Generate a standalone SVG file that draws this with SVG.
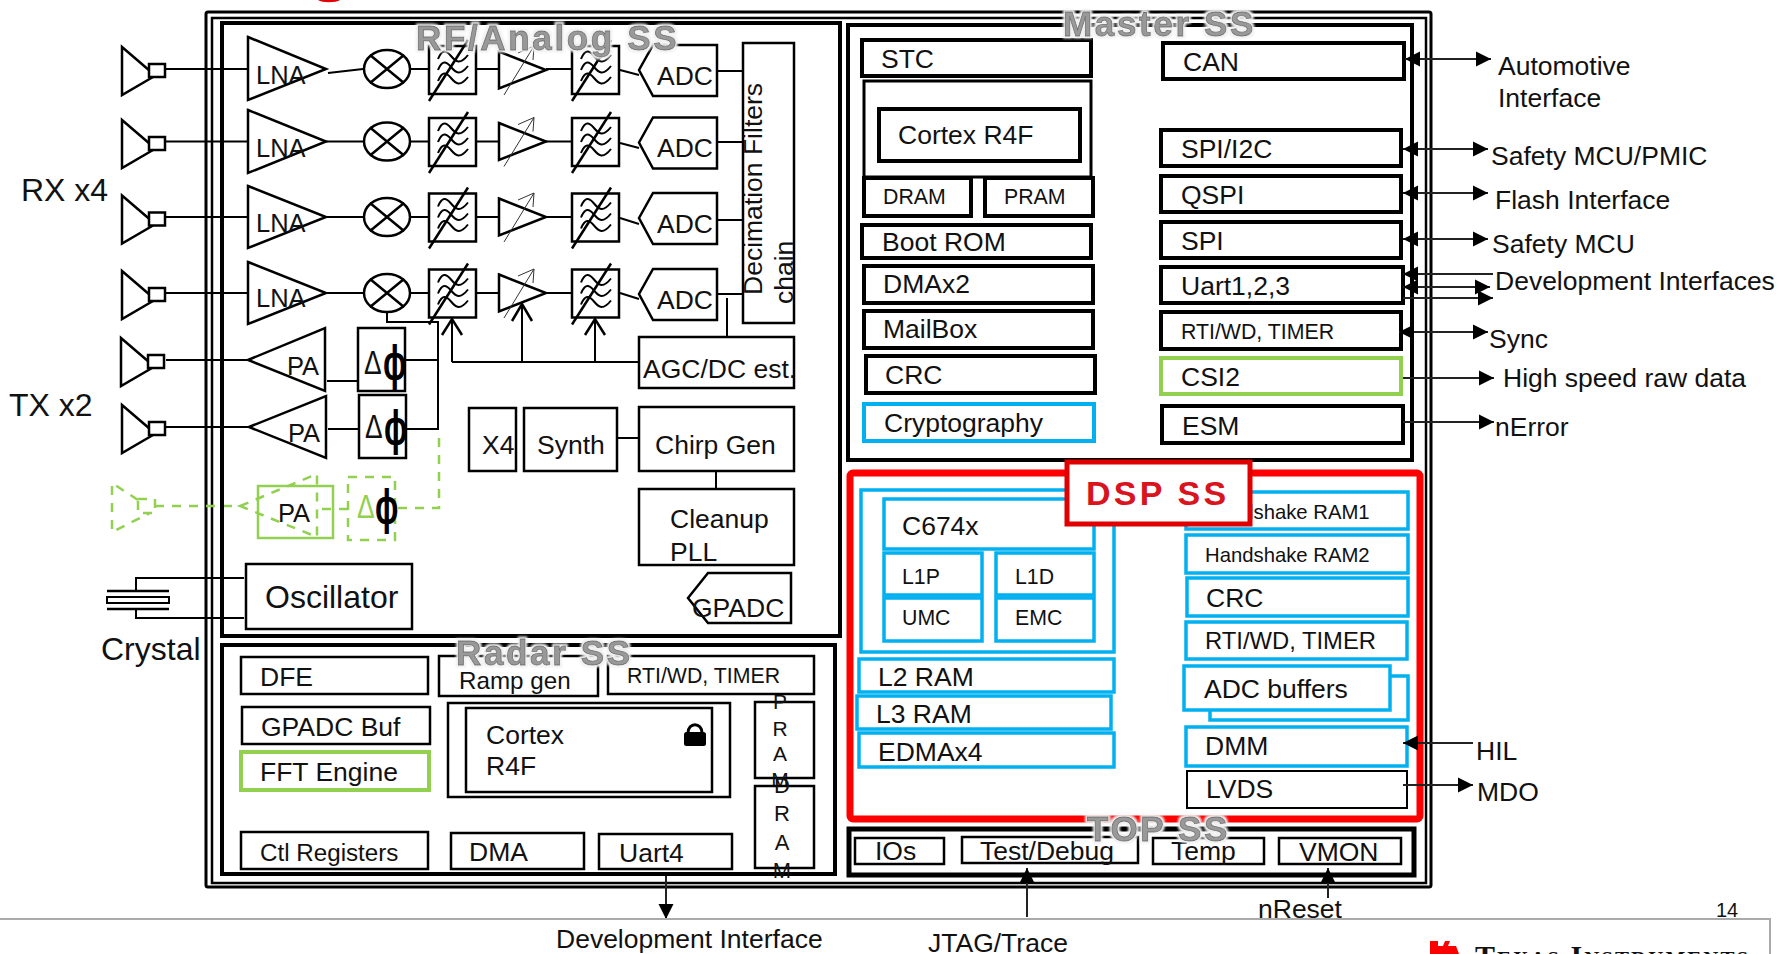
<svg xmlns="http://www.w3.org/2000/svg" width="1779" height="954" viewBox="0 0 1779 954">
<style>
text{font-family:"Liberation Sans",Arial,sans-serif;font-size:26.500px;fill:#111;transform:translate(-1px,0)}
.s21{font-size:21.300px}.s24{font-size:24.200px}.s20{font-size:20.300px}.s23{font-size:23.800px}.s32{font-size:32px}.s25{font-size:25.500px}
.fr{fill:none;stroke:#000}
.b{fill:#fff;stroke:#000;stroke-width:2.500}
.k{fill:#fff;stroke:#000;stroke-width:4}
.bl{fill:#fff;stroke:#00b0f0;stroke-width:3.500}
.gr{fill:#fff;stroke:#92d050;stroke-width:4}
.w{fill:none;stroke:#000;stroke-width:2}
.t{fill:none;stroke:#000;stroke-width:2.500}
.thin{fill:none;stroke:#333;stroke-width:1}
.gd{fill:none;stroke:#92d050;stroke-width:2.500;stroke-dasharray:9 8}
.ln{fill:none;stroke:#222;stroke-width:2}
.ss{font-size:35px;font-weight:bold;fill:#999;stroke:#6e6e6e;stroke-width:.8px;letter-spacing:2.650px;filter:url(#halo)}
.dl{font-size:33px}
.ph{font-size:46px;font-weight:bold;fill:#000}
</style>
<defs>
<filter id="halo" x="-10%" y="-30%" width="120%" height="160%">
<feMorphology in="SourceAlpha" operator="dilate" radius="2" result="d"/>
<feGaussianBlur in="d" stdDeviation="1" result="db"/>
<feFlood flood-color="#f0f0f0"/><feComposite in2="db" operator="in" result="h"/>
<feMerge><feMergeNode in="h"/><feMergeNode in="SourceGraphic"/></feMerge>
</filter>
<marker id="ah" markerUnits="userSpaceOnUse" markerWidth="16" markerHeight="16" refX="15" refY="8" orient="auto-start-reverse"><path d="M0 .5L15 8L0 15.500z" fill="#000"/></marker>
<g id="ant"><path class="t" d="M150 0L122-24V24L153 6"/><rect x="149" y="-7" width="16" height="13" class="b"/></g>
<g id="flt"><rect x="0" y="-24" width="47" height="48" fill="#fff" stroke="#000" stroke-width="2.500"/>
<path class="w" d="M9-11C13-21 17-20 22-14S31-5 39-15M9 0C13-10 17-9 22-3S31 6 39-4M9 11C13 1 17 2 22 8S31 17 39 7"/>
<path class="t" d="M0 31L39-30"/></g>
<g id="amp"><path fill="#fff" stroke="#000" stroke-width="2.500" d="M499-18.500L546 0L499 18.500z"/><path class="thin" d="M504 25L534-24L518-17M534-24L533-10"/></g>
<g id="mix"><ellipse cx="387" cy="0" rx="23" ry="19" class="t" fill="#fff"/><path class="t" d="M370-14L404 14M370 14L404-14"/></g>
<path id="adc" d="M0 0L14-25H78V26H14z" fill="#fff" stroke="#000" stroke-width="2.500"/>
</defs>
<rect width="1779" height="954" fill="#fff"/>
<path fill="#e00000" d="M318 0C322 3 336 3 340 0z"/>

<g id="frames">
<rect class="fr" x="206" y="12" width="1225" height="875" rx="2" stroke-width="3"/>
<rect class="fr" x="212" y="18" width="1214" height="865" stroke-width="2.500"/>
</g>

<g id="connectors">
<use href="#ant" y="71"/>
<use href="#ant" y="144"/><use href="#ant" y="219.500"/><use href="#ant" y="295"/>
<use href="#ant" x="-1" y="362"/><use href="#ant" y="429"/>
<path class="w" d="M166 69H248M166 141.500H248M166 217H248M166 293H248M166 360H248M166 427H249"/>
<path class="w" d="M136 591V578H244M136 609V618H244"/>
<path class="gd" d="M155 506H240"/>
<path class="t" d="M107 591H169M107 609H169"/>
<rect x="107" y="597" width="62" height="6" class="w" fill="#fff"/>
</g>

<rect id="rfss" class="fr" x="222" y="23" width="618" height="613" stroke-width="4"/>
<rect id="masterss" class="fr" x="848" y="25" width="564" height="435" stroke-width="4"/>
<rect id="radarss" class="fr" x="222" y="645" width="613" height="229" stroke-width="4"/>

<g id="rf-wires">
<path class="w" d="M328 73L363 69M326 141.500H363M326 217H363M326 293H363M410 69H429M410 141.500H429M410 217H429M410 293H429M476 69H499M476 141.500H499M476 217H499M476 293H499M546 69H572M546 141.500H572M546 217H572M546 293H572M620 70L639 75M620 143L639 148M620 218L639 224M620 293L639 299M717 71H743M717 142H743M717 220H743M717 294H743M727 298V337"/>
<path class="w" d="M387 312V322H438V430M405 360H438M406 429H438"/>
<path class="w" d="M452 362V320M522 362V304M595 362V320M452 362H639"/>
<path class="w" d="M327 381H358M328 429H359M617 438H639M716 471V489"/>
<path class="gd" d="M439 438V508H395M348 509H318"/>
</g>

<g id="lna1"><path class="b" d="M248 37L326 69L248 100z"/><text class="s25" x="257" y="84">LNA</text></g>
<g id="lna2"><path class="b" d="M248 110L326 141.500L248 173z"/><text class="s25" x="257" y="157">LNA</text></g>
<g id="lna3"><path class="b" d="M248 186L326 217L248 248z"/><text class="s25" x="257" y="232">LNA</text></g>
<g id="lna4"><path class="b" d="M248 262L326 293L248 324z"/><text class="s25" x="257" y="307">LNA</text></g>

<g id="mixers"><use href="#mix" y="69"/><use href="#mix" y="141.500"/><use href="#mix" y="217"/><use href="#mix" y="293"/></g>
<g id="filters1"><use href="#flt" x="429" y="70"/><use href="#flt" x="429" y="142"/><use href="#flt" x="429" y="217.500"/><use href="#flt" x="429" y="293.500"/></g>
<g id="amps"><use href="#amp" y="70"/><use href="#amp" y="141.500"/><use href="#amp" y="217"/><use href="#amp" y="293"/></g>
<g id="filters2"><use href="#flt" x="572" y="70"/><use href="#flt" x="572" y="142"/><use href="#flt" x="572" y="217.500"/><use href="#flt" x="572" y="293.500"/></g>
<path class="t" d="M442 335L452 319L462 335M512 321L522 304L532 321M585 335L595 319L605 335"/>

<g id="adc1"><use href="#adc" x="639" y="70"/><text x="658" y="85">ADC</text></g>
<g id="adc2"><use href="#adc" x="639" y="142.500"/><text x="658" y="157">ADC</text></g>
<g id="adc3"><use href="#adc" x="639" y="218"/><text x="658" y="233">ADC</text></g>
<g id="adc4"><use href="#adc" x="639" y="294"/><text x="658" y="309">ADC</text></g>

<g id="decimation"><rect class="b" x="743" y="43" width="51" height="280"/>
<text style="transform:translate(762px,295px) rotate(-90deg)">Decimation Filters</text>
<text style="transform:translate(793px,304px) rotate(-90deg)">chain</text></g>
<g id="agc"><rect class="b" x="639" y="337" width="155" height="51"/><text x="644" y="378">AGC/DC est.</text></g>
<g id="x4"><rect class="b" x="469" y="408" width="47" height="63"/><text x="483" y="454">X4</text></g>
<g id="synth"><rect class="b" x="524" y="408" width="93" height="63"/><text x="538" y="454">Synth</text></g>
<g id="chirp"><rect class="b" x="639" y="407" width="155" height="64"/><text x="656" y="454">Chirp Gen</text></g>
<g id="cleanup"><rect class="b" x="639" y="489" width="155" height="76"/><text x="671" y="528">Cleanup</text><text x="671" y="561">PLL</text></g>
<g id="gpadc"><path class="b" d="M688 598L708 573H791V623H708z"/><text x="693" y="617">GPADC</text></g>

<g id="pa1"><path class="b" d="M248 360L325 328V391z"/><text class="s25" x="288" y="375">PA</text></g>
<g id="pa2"><path class="b" d="M249 427L326 396V458z"/><text class="s25" x="289" y="442">PA</text></g>
<g id="ph1"><rect class="b" x="358" y="328" width="47" height="63"/><text class="dl" style="transform:translate(364px,374px) scale(.8,1)">Δ</text><text class="ph" style="transform:translate(383px,380px) scale(.68,1.1)">ϕ</text></g>
<g id="ph2"><rect class="b" x="359" y="395" width="47" height="63"/><text class="dl" style="transform:translate(365px,438px) scale(.8,1)">Δ</text><text class="ph" style="transform:translate(384px,445px) scale(.68,1.1)">ϕ</text></g>

<g id="antenna-green"><path class="gd" d="M138 500L112 483V532L150 513"/><rect class="gd" x="138" y="499" width="17" height="14"/></g>
<g id="pa3"><rect x="258" y="486" width="75" height="52" fill="none" stroke="#92d050" stroke-width="2.500"/><path class="gd" d="M240 506L317 474V537z"/><text class="s25" x="279" y="522">PA</text></g>
<g id="ph3"><rect class="gd" x="348" y="477" width="47" height="63"/><text class="dl" style="fill:#92d050;transform:translate(357px,518px) scale(.8,1)">Δ</text><text class="ph" style="transform:translate(375px,524px) scale(.68,1.1)">ϕ</text></g>

<g id="oscillator"><rect class="b" x="246" y="564" width="166" height="65"/><text class="s32" x="266" y="608">Oscillator</text></g>
<text id="rx" class="s32" x="22" y="201">RX x4</text>
<text id="tx" class="s32" x="10" y="416">TX x2</text>
<text id="crystal" class="s32" x="102" y="660">Crystal</text>

<g id="radar">
<g id="dfe"><rect class="b" x="241" y="657" width="187" height="37"/><text x="261" y="686">DFE</text></g>
<g id="ramp"><rect class="b" x="439" y="656" width="159" height="40"/><text class="s24" x="460" y="689">Ramp gen</text></g>
<g id="rti-r"><rect class="b" x="608" y="656" width="206" height="38"/><text class="s21" x="628" y="683">RTI/WD, TIMER</text></g>
<g id="gpadcbuf"><rect class="b" x="242" y="707" width="188" height="37"/><text x="262" y="736">GPADC Buf</text></g>
<g id="fft"><rect class="gr" x="241" y="752" width="188" height="38"/><text x="261" y="781">FFT Engine</text></g>
<g id="cortex-r"><rect class="b" x="448" y="703" width="282" height="94"/><rect class="b" x="466" y="708" width="246" height="84"/><text x="487" y="744">Cortex</text><text x="487" y="775">R4F</text>
<path d="M688 733C688 722 702 722 702 733" fill="none" stroke="#000" stroke-width="3"/><rect x="684" y="732" width="22" height="14" rx="2.500" fill="#000"/></g>
<g id="pram"><rect class="b" x="755" y="702" width="59" height="76" style="fill:none"/><g text-anchor="middle"><text x="781" y="709" style="font-size:21px">P</text><text x="781" y="736" style="font-size:21px">R</text><text x="781" y="761" style="font-size:21px">A</text><text x="781" y="787" style="font-size:21px">M</text></g></g>
<g id="dram"><rect class="b" x="755" y="786" width="59" height="82" style="fill:none"/><g text-anchor="middle"><text x="783" y="793" style="font-size:22px">D</text><text x="783" y="821" style="font-size:22px">R</text><text x="783" y="850" style="font-size:22px">A</text><text x="783" y="878" style="font-size:22px">M</text></g></g>
<g id="ctl"><rect class="b" x="241" y="832" width="187" height="37"/><text class="s24" x="261" y="861">Ctl Registers</text></g>
<g id="dma"><rect class="b" x="451" y="833" width="133" height="36"/><text x="470" y="861">DMA</text></g>
<g id="uart4"><rect class="b" x="599" y="834" width="133" height="35"/><text x="620" y="862">Uart4</text></g>
</g>

<g id="master">
<g id="stc"><rect class="k" x="862" y="40" width="229" height="36"/><text x="882" y="68">STC</text></g>
<g id="cortex-m"><rect class="k" style="stroke-width:3" x="864" y="81" width="227" height="96"/><rect class="k" x="879" y="109" width="201" height="52"/><text x="899" y="144">Cortex R4F</text></g>
<g id="dram-m"><rect class="k" x="864" y="178" width="107" height="38"/><text class="s21" x="884" y="204">DRAM</text></g>
<g id="pram-m"><rect class="k" x="985" y="178" width="108" height="38"/><text class="s21" x="1005" y="204">PRAM</text></g>
<g id="bootrom"><rect class="k" x="862" y="225" width="229" height="33"/><text x="883" y="251">Boot ROM</text></g>
<g id="dmax2"><rect class="k" x="864" y="266" width="229" height="37"/><text x="884" y="293">DMAx2</text></g>
<g id="mailbox"><rect class="k" x="864" y="311" width="229" height="37"/><text x="884" y="338">MailBox</text></g>
<g id="crc-m"><rect class="k" x="866" y="356" width="229" height="37"/><text x="886" y="384">CRC</text></g>
<g id="crypto"><rect class="k" style="stroke:#00b0f0" x="864" y="404" width="230" height="37"/><text x="885" y="432">Cryptography</text></g>
<g id="can"><rect class="k" x="1163" y="43" width="241" height="36"/><text x="1184" y="71">CAN</text></g>
<g id="spii2c"><rect class="k" x="1161" y="130" width="240" height="36"/><text x="1182" y="158">SPI/I2C</text></g>
<g id="qspi"><rect class="k" x="1161" y="176" width="240" height="36"/><text x="1182" y="204">QSPI</text></g>
<g id="spi"><rect class="k" x="1161" y="222" width="240" height="36"/><text x="1182" y="250">SPI</text></g>
<g id="uart"><rect class="k" x="1161" y="267" width="242" height="36"/><text x="1182" y="295">Uart1,2,3</text></g>
<g id="rti-m"><rect class="k" x="1161" y="312" width="240" height="37"/><text class="s21" x="1182" y="339">RTI/WD, TIMER</text></g>
<g id="csi2"><rect class="gr" x="1161" y="358" width="240" height="36"/><text x="1182" y="386">CSI2</text></g>
<g id="esm"><rect class="k" x="1162" y="406" width="241" height="37"/><text x="1183" y="435">ESM</text></g>
</g>

<g id="dsp">
<rect x="850" y="473" width="570" height="346" rx="3" fill="none" stroke="#f00" stroke-width="7"/>
<rect class="bl" x="861" y="490" width="253" height="162" style="fill:none"/>
<g id="c674"><rect class="bl" x="884" y="499" width="210" height="50"/><text x="903" y="535">C674x</text></g>
<g id="l1p"><rect class="bl" x="884" y="553" width="98" height="42"/><text class="s21" x="903" y="584">L1P</text></g>
<g id="l1d"><rect class="bl" x="996" y="553" width="98" height="42"/><text class="s21" x="1016" y="584">L1D</text></g>
<g id="umc"><rect class="bl" x="884" y="598" width="98" height="43"/><text class="s21" x="903" y="625">UMC</text></g>
<g id="emc"><rect class="bl" x="996" y="598" width="98" height="43"/><text class="s21" x="1016" y="625">EMC</text></g>
<g id="l2"><rect class="bl" x="859" y="659" width="255" height="33"/><text x="879" y="686">L2 RAM</text></g>
<g id="l3"><rect class="bl" x="857" y="696" width="254" height="33"/><text x="877" y="723">L3 RAM</text></g>
<g id="edma"><rect class="bl" x="859" y="733" width="255" height="34"/><text x="879" y="761">EDMAx4</text></g>
<g id="hs1"><rect class="bl" x="1186" y="492" width="222" height="37"/><text class="s20" x="1206" y="519">Handshake RAM1</text></g>
<g id="hs2"><rect class="bl" x="1186" y="535" width="222" height="38"/><text class="s20" x="1206" y="562">Handshake RAM2</text></g>
<g id="crc-d"><rect class="bl" x="1187" y="578" width="221" height="38"/><text x="1207" y="607">CRC</text></g>
<g id="rti-d"><rect class="bl" x="1186" y="622" width="221" height="37"/><text class="s23" x="1206" y="649">RTI/WD, TIMER</text></g>
<g id="adcbuf"><rect class="bl" x="1210" y="676" width="198" height="44"/><rect class="bl" x="1184" y="666" width="206" height="44"/><text x="1205" y="698">ADC buffers</text></g>
<g id="dmm"><rect class="bl" x="1186" y="727" width="221" height="39"/><text x="1206" y="755">DMM</text></g>
<g id="lvds"><rect x="1187" y="771" width="220" height="37" fill="#fff" stroke="#000" stroke-width="2"/><text x="1207" y="798">LVDS</text></g>
<g id="dsplabel"><rect x="1067" y="462" width="183" height="62" fill="#fff" stroke="#e00000" stroke-width="5"/><text x="1087" y="505" style="font-size:34px;font-weight:bold;fill:#d8141e;letter-spacing:3.200px">DSP SS</text></g>
</g>

<g id="top">
<rect class="fr" x="849" y="829" width="565" height="46" stroke-width="5"/>
<g id="ios"><rect class="b" x="855" y="838" width="89" height="26"/><text x="876" y="860">IOs</text></g>
<g id="testdebug"><rect class="b" x="962" y="837" width="176" height="26"/><text x="981" y="860">Test/Debug</text></g>
<g id="temp"><rect class="b" x="1153" y="838" width="111" height="26"/><text x="1172" y="860">Temp</text></g>
<g id="vmon"><rect class="b" x="1279" y="838" width="122" height="26"/><text x="1300" y="861">VMON</text></g>
</g>

<g id="arrows">
<path class="ln" marker-start="url(#ah)" marker-end="url(#ah)" d="M1405 59H1491"/>
<path class="ln" marker-start="url(#ah)" marker-end="url(#ah)" d="M1403 149H1488"/>
<path class="ln" marker-start="url(#ah)" marker-end="url(#ah)" d="M1403 193H1488"/>
<path class="ln" marker-start="url(#ah)" marker-end="url(#ah)" d="M1403 239H1488"/>
<path class="ln" marker-start="url(#ah)" d="M1403 274H1493"/>
<path class="ln" marker-start="url(#ah)" marker-end="url(#ah)" d="M1403 287H1490"/>
<path class="ln" marker-end="url(#ah)" d="M1403 298H1493"/>
<path class="ln" marker-start="url(#ah)" marker-end="url(#ah)" d="M1399 332H1488"/>
<path class="ln" marker-end="url(#ah)" d="M1403 378H1494"/>
<path class="ln" marker-end="url(#ah)" d="M1403 422H1494"/>
<path class="ln" marker-start="url(#ah)" d="M1403 743H1473"/>
<path class="ln" marker-end="url(#ah)" d="M1403 785H1473"/>
<path class="ln" marker-end="url(#ah)" d="M666 876V919"/>
<path class="ln" marker-end="url(#ah)" d="M1027 917V868"/>
<path class="ln" marker-end="url(#ah)" d="M1328 898V868"/>
</g>

<g id="titles">
<text class="ss" x="417" y="50">RF/Analog SS</text>
<text class="ss" x="1064" y="36">Master SS</text>
<text class="ss" x="457" y="665">Radar SS</text>
<text class="ss" x="1088" y="841">TOP SS</text>
</g>

<g id="labels">
<text x="1499" y="75">Automotive</text><text x="1499" y="107">Interface</text>
<text x="1492" y="165">Safety MCU/PMIC</text>
<text x="1496" y="209">Flash Interface</text>
<text x="1493" y="253">Safety MCU</text>
<text x="1496" y="290">Development Interfaces</text>
<text x="1490" y="348">Sync</text>
<text x="1504" y="387">High speed raw data</text>
<text x="1496" y="436">nError</text>
<text x="1477" y="760">HIL</text>
<text x="1478" y="801">MDO</text>
<text x="557" y="948">Development Interface</text>
<text x="929" y="952">JTAG/Trace</text>
<text x="1259" y="918">nReset</text>
</g>

<g id="footer">
<path fill="none" stroke="#aaa" stroke-width="2" d="M0 919H1770V954"/>
<text x="1717" y="917" style="font-size:20px">14</text>
<path fill="#f00" d="M1430 941H1438V946H1443L1445 941H1450L1448 946H1456L1459 954H1430z"/>
<text x="1476" y="965.500" style="font-family:'Liberation Serif',serif;font-size:30px;font-weight:bold;font-variant:small-caps;letter-spacing:2px">Texas Instruments</text>
</g>
</svg>
